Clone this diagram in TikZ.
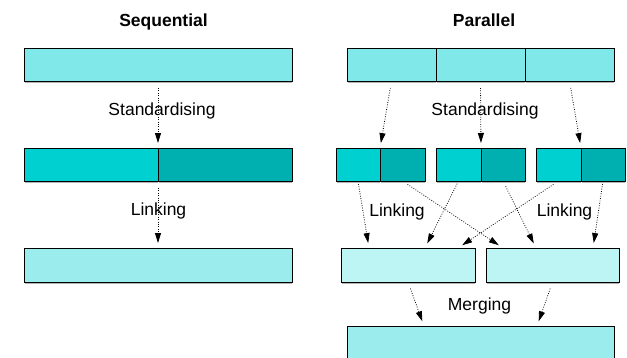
\documentclass[tikz,border=0pt]{standalone}
\usepackage{fontspec}
\setmainfont{Liberation Sans}
\usetikzlibrary{arrows.meta,calc}
\definecolor{cTop}{RGB}{128,232,232}
\definecolor{cDarkA}{RGB}{0,208,208}
\definecolor{cDarkB}{RGB}{0,176,176}
\definecolor{cMerge}{RGB}{189,244,244}
\definecolor{cFinal}{RGB}{155,236,236}
\tikzset{
  box/.style={draw=black, line width=1pt, inner sep=0pt, outer sep=0pt, rectangle, anchor=north west},
  flow/.style={line width=0.8pt, dash pattern=on 0.8pt off 1.6pt,
    -{Triangle[length=10pt,width=6pt]}, shorten <=7pt, shorten >=5pt},
  flowb/.style={flow, shorten <=3pt, shorten >=5pt},
  lbl/.style={anchor=base, inner sep=0pt, font=\fontsize{17.5}{20}\selectfont},
  ttl/.style={lbl, font=\fontsize{17.5}{20}\selectfont\bfseries}
}
\newcommand{\mybox}[6]{%
  \node[box, fill=#6, minimum width={(#4-#2)*1pt}, minimum height={(#5-#3)*1pt}] (#1) at (#2,#3) {};%
  \draw[gray!60, line width=0.8pt] ($(#1.south west)+(0.5,1.2)$) -- ($(#1.south east)+(-0.5,1.2)$);%
}
\begin{document}
\begin{tikzpicture}[x=1pt, y=-1pt]
\clip (0,0) rectangle (627,357);
% Sequential
\mybox{S1}{24}{48}{292}{81}{cTop}
\mybox{S2a}{24}{148}{158}{181}{cDarkA}
\mybox{S2b}{158}{148}{292}{181}{cDarkB}
\mybox{S3}{24}{248}{292}{282}{cFinal}
% Parallel
\mybox{P1}{347}{48}{436}{81}{cTop}
\mybox{P2}{436}{48}{525}{81}{cTop}
\mybox{P3}{525}{48}{614}{81}{cTop}
\mybox{A1}{336}{148}{380}{181}{cDarkA}
\mybox{A2}{380}{148}{425}{181}{cDarkB}
\mybox{B1}{436}{148}{481}{181}{cDarkA}
\mybox{B2}{481}{148}{525}{181}{cDarkB}
\mybox{C1}{536}{148}{581}{181}{cDarkA}
\mybox{C2}{581}{148}{625}{181}{cDarkB}
\mybox{M1}{341}{248}{475}{282}{cMerge}
\mybox{M2}{486}{248}{619}{282}{cMerge}
\mybox{F}{347}{326}{614}{372}{cFinal}
% arrows sequential
\draw[flow] (S1.south) -- (S2a.north east);
\draw[flow] (S2a.south east) -- (S3.north);
% arrows parallel standardising
\draw[flow] (P1.south) -- (A1.north east);
\draw[flow] (P2.south) -- (B1.north east);
\draw[flow] (P3.south) -- (C1.north east);
% linking
\draw[flowb] (A1.south) -- ($(M1.north west)+(28,0)$);
\draw[flowb] (B1.south) -- ($(M1.north west)+(84,0)$);
\draw[flowb, shorten <=6pt] (A2.south) -- ($(M2.north west)+(17,0)$);
\draw[flowb, shorten <=6pt] (B2.south) -- ($(M2.north west)+(50,0)$);
\draw[flowb, shorten <=6pt] (C1.south) -- ($(M1.north west)+(117,0)$);
\draw[flowb] (C2.south) -- ($(M2.north west)+(107,0)$);
% merging
\draw[flow] (M1.south) -- ($(F.north west)+(77,0)$);
\draw[flow] (M2.south) -- ($(F.north west)+(190,0)$);
% labels
\node[ttl] (tseq) at (163.5,26) {Sequential};
\node[ttl] (tpar) at (484,26) {Parallel};
\node[lbl] (lstd1) at (162,115) {Standardising};
\node[lbl] (lstd2) at (485,115) {Standardising};
\node[lbl] (llnk1) at (158.5,215) {Linking};
\node[lbl] (llnk2) at (397,216) {Linking};
\node[lbl] (llnk3) at (564.5,216) {Linking};
\node[lbl] (lmrg) at (479.5,310) {Merging};
\end{tikzpicture}
\end{document}
